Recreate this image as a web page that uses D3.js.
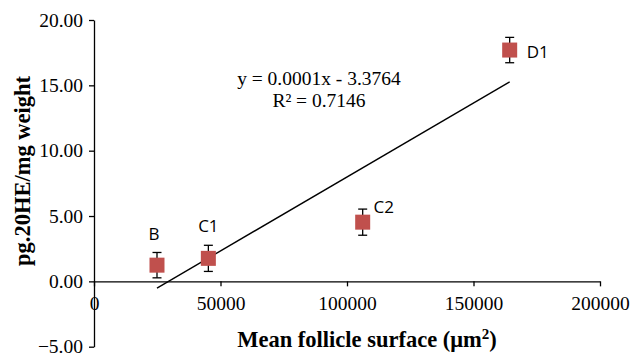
<!DOCTYPE html>
<html>
<head>
<meta charset="utf-8">
<script src="https://cdn.jsdelivr.net/npm/d3@7/dist/d3.min.js"></script>
<style>
  body { margin: 0; background: #fff; }
  svg { display: block; }
</style>
</head>
<body>
<svg id="chart" width="630" height="353"></svg>
<script>
// data
var groups = ['B', 'C1', 'C2', 'D1'];
var surface = [24900, 45200, 106200, 164300];
var hormone = [1.24, 1.76, 4.53, 17.70];
var hormoneErr = [0.97, 1.0, 1.0, 0.97];
var xTicks = [0, 50000, 100000, 150000, 200000];
var yTicks = [-5, 0, 5, 10, 15, 20];
var trendText = ['y = 0.0001x - 3.3764', 'R\u00b2 = 0.7146'];

var svg = d3.select('#chart');
var serif = 'Liberation Serif, Times New Roman, serif';
var sans = 'Open Sans, Liberation Sans, sans-serif';

var x = d3.scaleLinear().domain([0, 200000]).range([94, 600]);
var y = d3.scaleLinear().domain([-5, 20]).range([346.7, 20]);

// y axis
var yAxis = svg.append('g')
    .attr('transform', 'translate(' + x(0) + ',0)')
    .call(d3.axisLeft(y).tickValues(yTicks).tickSize(5).tickSizeOuter(0)
        .tickPadding(6).tickFormat(d3.format('.2f')));

// x axis on the zero line
var xAxis = svg.append('g')
    .attr('transform', 'translate(0,' + y(0) + ')')
    .call(d3.axisBottom(x).tickValues(xTicks).tickSize(5).tickSizeOuter(0)
        .tickPadding(10).tickFormat(d3.format('d')));

[xAxis, yAxis].forEach(function (ax) {
    ax.select('.domain').attr('stroke', '#000').attr('stroke-width', 1.3);
    ax.selectAll('.tick line').attr('stroke', '#000').attr('stroke-width', 1.3);
    ax.selectAll('.tick text')
        .attr('fill', '#000')
        .attr('font-family', serif)
        .attr('font-size', 19.5);
});

// trend line (least squares over the points)
var mx = d3.mean(surface), my = d3.mean(hormone);
var sxy = 0, sxx = 0;
for (var i = 0; i < surface.length; i++) {
    sxy += (surface[i] - mx) * (hormone[i] - my);
    sxx += (surface[i] - mx) * (surface[i] - mx);
}
var slope = sxy / sxx;
var icpt = my - slope * mx;
var x0 = d3.min(surface), x1 = d3.max(surface);

svg.append('line')
    .attr('x1', x(x0)).attr('y1', y(slope * x0 + icpt))
    .attr('x2', x(x1)).attr('y2', y(slope * x1 + icpt))
    .attr('stroke', '#000')
    .attr('stroke-width', 1.4);

// error bars + markers
var pts = svg.append('g');
groups.forEach(function (name, i) {
    var cx = x(surface[i]);
    var yHi = y(hormone[i] + hormoneErr[i]);
    var yLo = y(hormone[i] - hormoneErr[i]);
    var grp = pts.append('g');
    grp.append('line').attr('x1', cx).attr('x2', cx).attr('y1', yHi).attr('y2', yLo);
    grp.append('line').attr('x1', cx - 4.5).attr('x2', cx + 4.5).attr('y1', yHi).attr('y2', yHi);
    grp.append('line').attr('x1', cx - 4.5).attr('x2', cx + 4.5).attr('y1', yLo).attr('y2', yLo);
    grp.selectAll('line').attr('stroke', '#000').attr('stroke-width', 1.3);
    grp.append('rect')
        .attr('x', cx - 7.5)
        .attr('y', y(hormone[i]) - 7.5)
        .attr('width', 15)
        .attr('height', 15)
        .attr('fill', '#c0504d');
});

// point labels
var labelOffset = { B: [-3, -32], C1: [0, -33], C2: [21, -16], D1: [28, 1] };
groups.forEach(function (name, i) {
    var off = labelOffset[name];
    svg.append('text')
        .attr('x', x(surface[i]) + off[0])
        .attr('y', y(hormone[i]) + off[1])
        .attr('text-anchor', 'middle')
        .attr('dominant-baseline', 'central')
        .attr('font-family', sans)
        .attr('font-size', 17)
        .attr('fill', '#000')
        .text(name);
});

// equation
svg.append('g').selectAll('text')
    .data(trendText)
    .join('text')
    .attr('x', 319)
    .attr('y', function (d, i) { return 85 + i * 22; })
    .attr('text-anchor', 'middle')
    .attr('font-family', serif)
    .attr('font-size', 19.5)
    .attr('fill', '#000')
    .text(function (d) { return d; });

// axis titles
svg.append('text')
    .attr('transform', 'translate(30,171) rotate(-90)')
    .attr('text-anchor', 'middle')
    .attr('font-family', serif)
    .attr('font-weight', 'bold')
    .attr('font-size', 22.5)
    .text('pg.20HE/mg weight');

var xt = svg.append('text')
    .attr('x', 367)
    .attr('y', 347)
    .attr('text-anchor', 'middle')
    .attr('font-family', serif)
    .attr('font-weight', 'bold')
    .attr('font-size', 22.5);
xt.append('tspan').text('Mean follicle surface (\u03bcm');
xt.append('tspan').attr('font-size', 15).attr('dy', -8).text('2');
xt.append('tspan').attr('dy', 8).text(')');
</script>
</body>
</html>
